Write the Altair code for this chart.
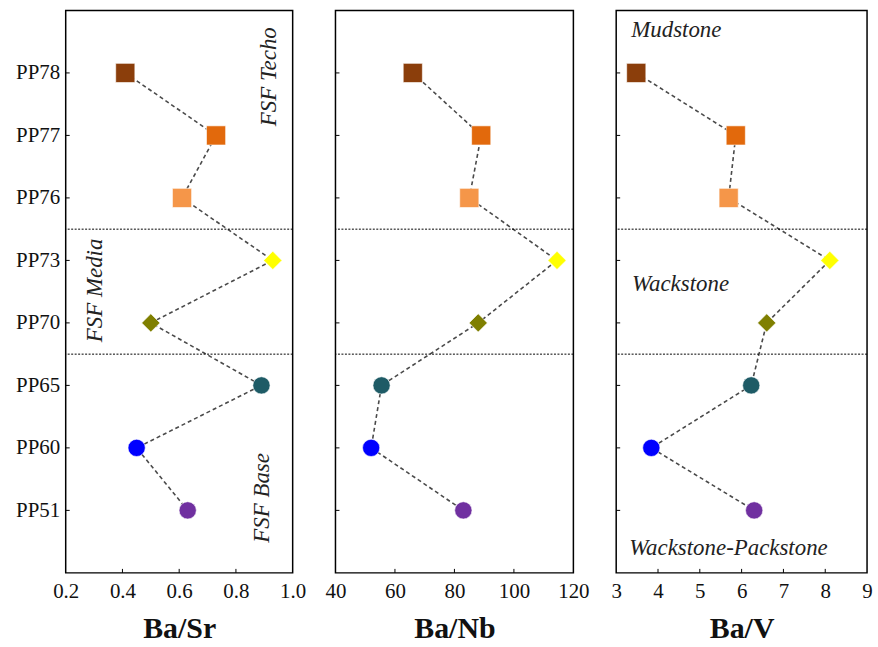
import json

import altair as alt
import pandas as pd

# Samples from top of the section to the base
samples = ["PP78", "PP77", "PP76", "PP73", "PP70", "PP65", "PP60", "PP51"]
facies = ["Mudstone"] * 3 + ["Wackstone"] * 2 + ["Wackstone-Packstone"] * 3
ba_sr = [0.41, 0.73, 0.61, 0.93, 0.50, 0.89, 0.45, 0.63]
ba_nb = [66, 89, 85, 114.5, 88, 55.5, 52, 83]
ba_v = [3.48, 5.86, 5.69, 8.11, 6.60, 6.23, 3.84, 6.30]
sample_colors = ["#8B3E0B", "#E2690C", "#F59649", "#FFFF00",
                 "#7F7F00", "#1E5B66", "#0000FF", "#7030A0"]

facies_names = ["Mudstone", "Wackstone", "Wackstone-Packstone"]
facies_shapes = ["square", "diamond", "circle"]
facies_sizes = [370, 300, 310]

# Unit boundaries between sample groups (in stratigraphic position units)
boundaries = [5.5, 3.5]

# Ticks for each ratio axis
sr_ticks = [0.2, 0.4, 0.6, 0.8, 1.0]
nb_ticks = [40, 60, 80, 100, 120]
v_ticks = [3, 4, 5, 6, 7, 8, 9]

# Unit names drawn inside the Ba/Sr panel (text, x, position)
unit_notes = [("FSF Techo", 0.916, 7.94),
              ("FSF Media", 0.305, 4.52),
              ("FSF Base", 0.893, 1.20)]
# Facies names drawn inside the Ba/V panel (text, x, position)
facies_notes = [("Mudstone", 3.36, 8.68),
                ("Wackstone", 3.38, 4.62),
                ("Wackstone-Packstone", 3.31, 0.40)]

FONT = "Liberation Serif"
H = 565
n = len(samples)
positions = list(range(n, 0, -1))

df = pd.DataFrame({
    "sample": samples,
    "pos": positions,
    "order": list(range(n)),
    "facies": facies,
    "ba_sr": ba_sr,
    "ba_nb": ba_nb,
    "ba_v": ba_v,
})
bounds_df = pd.DataFrame({"b": boundaries})

labels = [""] * (n + 2)
for s, p in zip(samples, positions):
    labels[p] = s
label_expr = json.dumps(labels) + "[datum.value]"

y_scale = alt.Scale(domain=[0, n + 1], nice=False, zero=False)


def panel(field, title, domain, ticks, fmt, width, show_labels, notes, note_angle, note_align):
    x_scale = alt.Scale(domain=domain, nice=False, zero=False)
    x_axis = alt.Axis(values=ticks, format=fmt, title=title, labelFlush=False,
                      labelPadding=8, titlePadding=12)
    if show_labels:
        y_axis = alt.Axis(values=positions, labelExpr=label_expr, title=None,
                          labelPadding=6)
    else:
        y_axis = alt.Axis(values=positions, labels=False, title=None)

    def X(f):
        return alt.X(f"{f}:Q", scale=x_scale, axis=x_axis)

    def Y(f):
        return alt.Y(f"{f}:Q", scale=y_scale, axis=y_axis)

    base = alt.Chart(df)
    line = base.mark_line(color="#4a4a4a", strokeDash=[4, 3], strokeWidth=1.6).encode(
        x=X(field), y=Y("pos"), order="order:Q")
    pts = base.mark_point(filled=True, opacity=1, stroke="white", strokeWidth=0.6).encode(
        x=X(field), y=Y("pos"),
        color=alt.Color("sample:N", scale=alt.Scale(domain=samples, range=sample_colors),
                        legend=None),
        shape=alt.Shape("facies:N", scale=alt.Scale(domain=facies_names, range=facies_shapes),
                        legend=None),
        size=alt.Size("facies:N", scale=alt.Scale(domain=facies_names, range=facies_sizes),
                      legend=None),
    )
    seps = alt.Chart(bounds_df).mark_rule(color="black", strokeDash=[2, 1.5], strokeWidth=1).encode(
        y=Y("b"))
    yticks = base.mark_rule(color="black", strokeWidth=1).encode(
        y=Y("pos"), x=alt.value(0), x2=alt.value(4))
    xtick_df = pd.DataFrame({"v": ticks[1:-1]})
    xticks = alt.Chart(xtick_df).mark_rule(color="black", strokeWidth=1).encode(
        x=X("v"), y=alt.value(H), y2=alt.value(H - 4))

    layers = [line, seps, yticks, xticks, pts]
    if notes:
        note_df = pd.DataFrame(notes, columns=["text", "x", "y"])
        texts = alt.Chart(note_df).mark_text(
            font=FONT, fontStyle="italic", fontSize=23, color="#222",
            angle=note_angle, align=note_align, baseline="middle").encode(
            x=X("x"), y=Y("y"), text="text:N")
        layers.append(texts)
    return alt.layer(*layers).properties(width=width, height=H)


p1 = panel("ba_sr", "Ba/Sr", [0.2, 1.0], sr_ticks, ".1f", 228, True, unit_notes, 270, "center")
p2 = panel("ba_nb", "Ba/Nb", [40, 120], nb_ticks, "d", 239, False, [], 0, "left")
p3 = panel("ba_v", "Ba/V", [3, 9], v_ticks, "d", 252, False, facies_notes, 0, "left")

chart = alt.hconcat(p1, p2, p3, spacing=43, bounds="flush").properties(
    padding={"left": 14, "top": 8, "right": 5, "bottom": 5}
).configure_view(
    stroke="black", strokeWidth=1.5
).configure_axis(
    labelFont=FONT, labelFontSize=21, labelColor="#111",
    titleFont=FONT, titleFontSize=30, titleFontWeight="bold", titleColor="#111",
    grid=False, domain=False, ticks=False,
)

chart.save("out.html", embed_options={"renderer": "svg", "actions": False})
